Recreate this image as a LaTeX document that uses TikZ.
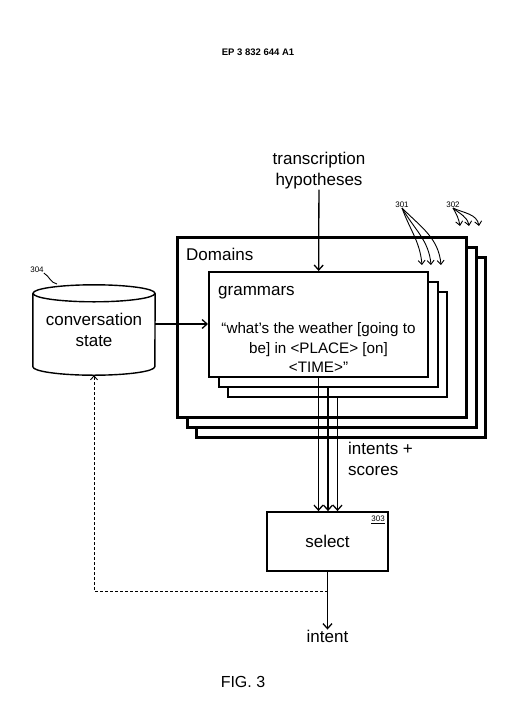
\documentclass[tikz,border=0pt]{standalone}
\usepackage{fontspec}
\setmainfont{Liberation Sans}
\usetikzlibrary{arrows.meta}
\begin{document}
\begin{tikzpicture}[
        x=1pt, y=-1pt,
        every node/.style={font=\fontsize{17}{21}\selectfont, inner sep=0pt},
        ar/.style={-{Straight Barb[length=5pt, width=9pt]}, line width=1.3pt},
        thinar/.style={-{Straight Barb[length=4pt, width=7pt]}, line width=0.9pt},
        dombox/.style={draw, line width=3pt, fill=white, minimum width=289pt, minimum height=180pt},
        grambox/.style={draw, line width=2pt, fill=white, minimum width=219pt, minimum height=105pt},
        refnum/.style={font=\fontsize{8}{10}\selectfont},
    ]
    \useasboundingbox (0,0) rectangle (515,723);

    \node[font=\bfseries\fontsize{9.5}{11}\selectfont](ep) at (258,52) {EP 3 832 644 A1};

    % domains, back to front
    \node[dombox](dom3) at (341,347) {};
    \node[dombox](dom2) at (331.5,337) {};
    \node[dombox](dom1) at (322,327) {};
    \node[anchor=base west](domlbl) at (186,260) {Domains};

    % grammars, back to front
    \node[grambox](gram3) at (337.5,344) {};
    \node[grambox](gram2) at (328,334.5) {};
    \node[grambox](gram1) at (318.5,324.5) {};
    \node[anchor=base west](gramlbl) at (218,295) {grammars};
    \node[align=center, font=\fontsize{15.2}{19.5}\selectfont](quote) at (318.5,347.5)
        {“what’s the weather [going to\\be] in <PLACE> [on]\\<TIME>”};

    \node[align=center](trans) at (319,171) {transcription\\hypotheses};

    % conversation state store
    \node[minimum width=122pt, minimum height=90pt, align=center](conv) at (94,330)
        {conversation\\state};
    \draw[line width=1.4pt] ([yshift=-8.5pt]conv.north west) -- ([yshift=8.5pt]conv.south west)
        arc[start angle=180, end angle=360, x radius=61pt, y radius=8.5pt]
        -- ([yshift=-8.5pt]conv.north east);
    \draw[line width=1.4pt] ([yshift=-8.5pt]conv.north) ellipse[x radius=61pt, y radius=8.5pt];

    \node[draw, line width=1.8pt, minimum width=121pt, minimum height=59pt](sel) at (327.5,541.5) {select};
    \node[refnum, anchor=north east](n303) at (385,516) {\underline{303}};

    \node[align=left, anchor=north west](scores) at (348,442) {intents +\\scores};
    \node[](intent) at (327.5,636) {intent};

    \node[refnum](n301) at (402,205) {301};
    \node[refnum](n302) at (453,205) {302};
    \node[refnum](n304) at (37,270) {304};
    \node[font=\fontsize{16}{19}\selectfont](fig) at (243,682) {FIG. 3};

    \coordinate (a1) at (422,265);
    \coordinate (a2) at (431,265);
    \coordinate (a3) at (441,265);
    \coordinate (b1) at (460,226);
    \coordinate (b2) at (469,226);
    \coordinate (b3) at (479,226);
    \coordinate (fb) at (327.5,591);

    \path[ar]
    (trans) edge (gram1)
    ([yshift=6pt]conv.east) edge ([yshift=6pt]conv.east -| gram1.west)
    (gram1.south) edge (gram1.south |- sel.north)
    (gram2.south) edge (gram2.south |- sel.north)
    (gram3.south) edge (gram3.south |- sel.north)
    (sel) edge (intent)
    ;
    \draw[thinar, densely dashed] (fb) -| (conv.south);

    \path[thinar]
    (n301.south) edge[out=-70, in=95] (a1)
                 edge[out=-60, in=95] (a2)
                 edge[out=-45, in=95] (a3)
    (n302.south) edge[out=-60, in=100] (b1)
                 edge[out=-40, in=100] (b2)
                 edge[out=-25, in=100] (b3)
    ;
    \draw[line width=0.9pt] (n304.south east) to[out=-30, in=170] (57,284);
\end{tikzpicture}
\end{document}
